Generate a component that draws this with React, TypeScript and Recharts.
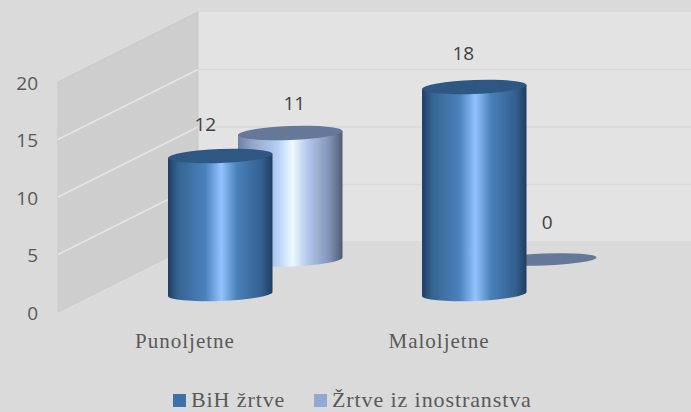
import React from "react";
import { BarChart, Bar, XAxis, YAxis, Legend, LabelList, Customized } from "recharts";

const categories = ["Punoljetne", "Maloljetne"];
const bihValues = [12, 18];
const foreignValues = [11, 0];
const yTicks = [0, 5, 10, 15, 20];
const seriesNames = ["BiH žrtve", "Žrtve iz inostranstva"];

const tableData = categories.map((name, i) => ({ name, bih: bihValues[i], foreign: foreignValues[i] }));

const W = 691;
const H = 412;
const PLOT_TOP = 83;
const PLOT_BOTTOM = 313;
const UNIT = (PLOT_BOTTOM - PLOT_TOP) / 20;
const BAR_W = 104.5;
const FRONT_DY = -19;
const BACK_DX = 70;
const BACK_DY = -53.5;
const TILT = 2;
const RY = 7;

const AXIS_FONT = "'Open Sans', sans-serif";
const SERIF = "'Liberation Serif', serif";

function Cylinder({ x, y, width, height, dx, dy, fill, topFill }: any) {
  const left = x + dx;
  const right = left + width;
  const cx = left + width / 2;
  const rx = width / 2;
  const top = y + dy;
  const bot = y + height + dy;
  const rot = -(Math.atan2(TILT * 2, width) * 180) / Math.PI;
  if (height <= 0.5) {
    return <ellipse cx={cx} cy={top} rx={rx} ry={RY - 1} fill={topFill} transform={`rotate(${rot} ${cx} ${top})`} />;
  }
  const body = `M ${left} ${top + TILT} L ${left} ${bot + TILT} A ${rx} ${RY} ${rot} 0 0 ${right} ${bot - TILT} L ${right} ${top - TILT} Z`;
  return (
    <g>
      <path d={body} fill={fill} />
      <ellipse cx={cx} cy={top} rx={rx} ry={RY} fill={topFill} transform={`rotate(${rot} ${cx} ${top})`} />
    </g>
  );
}

function Room() {
  const backLeft = 198;
  const frontLeft = 58;
  const backY = (v: number) => 242 - v * 11.5;
  const sideY = (v: number) => 312 - v * 11.5;
  return (
    <g>
      <defs>
        <linearGradient id="blueBody" x1="0" x2="1" y1="0" y2="0">
          <stop offset="0" stopColor="#1f3f66" />
          <stop offset="0.1" stopColor="#366492" />
          <stop offset="0.36" stopColor="#4b82bd" />
          <stop offset="0.51" stopColor="#92c3ff" />
          <stop offset="0.66" stopColor="#4a80ba" />
          <stop offset="0.9" stopColor="#335f8f" />
          <stop offset="1" stopColor="#1f3e62" />
        </linearGradient>
        <linearGradient id="lightBody" x1="0" x2="1" y1="0" y2="0">
          <stop offset="0" stopColor="#6f7f9e" />
          <stop offset="0.12" stopColor="#8fa3c6" />
          <stop offset="0.38" stopColor="#b6cff5" />
          <stop offset="0.52" stopColor="#ecfaff" />
          <stop offset="0.66" stopColor="#b5c9ec" />
          <stop offset="0.88" stopColor="#7f92b5" />
          <stop offset="1" stopColor="#4f5b72" />
        </linearGradient>
      </defs>
      <rect x={backLeft} y={backY(20)} width={W - backLeft} height={backY(0) - backY(20)} fill="#e3e3e3" />
      <polygon
        points={`${frontLeft},${sideY(20)} ${backLeft},${backY(20)} ${backLeft},${backY(0)} ${frontLeft},${sideY(0)}`}
        fill="#cecece"
        stroke="#c9c9c9"
      />
      {yTicks.map((t) => (
        <g key={t}>
          {t > 0 && t < 20 && (
            <line x1={frontLeft} y1={sideY(t)} x2={backLeft} y2={backY(t)} stroke="#e4e4e4" strokeWidth={1.5} />
          )}
          {t < 20 && <line x1={backLeft} y1={backY(t)} x2={W} y2={backY(t)} stroke="#d9d9d9" strokeWidth={1.5} />}
        </g>
      ))}
    </g>
  );
}

const frontLabelDx = [-15, -11];
const frontLabelDy = [-32, -34];
const backLabelDx = [4, 3];
const backLabelDy = [-30, -38];

function makeLabel(baseDx: number, baseDy: number, dxs: number[], dys: number[]) {
  return function DataLabel({ x, y, width, value, index }: any) {
    return (
      <text
        x={x + width / 2 + baseDx + dxs[index]}
        y={y + baseDy + dys[index]}
        textAnchor="middle"
        dominantBaseline="central"
        fontFamily={AXIS_FONT}
        fontSize={19}
        fill="#404040"
      >
        {value}
      </text>
    );
  };
}

function LegendBox() {
  const swatches = ["#3f70ab", "#93a9d3"];
  const lefts = [173, 314];
  return (
    <div style={{ position: "relative", width: W, height: 24 }}>
      {seriesNames.map((n, i) => (
        <div key={n}>
          <div
            style={{ position: "absolute", left: lefts[i], top: 7, width: 13, height: 13, background: swatches[i] }}
          />
          <div
            style={{
              position: "absolute",
              left: lefts[i] + 18,
              top: 0,
              fontFamily: SERIF,
              fontSize: 22,
              lineHeight: "26px",
              letterSpacing: 0.9,
              color: "#595959",
              whiteSpace: "nowrap",
            }}
          >
            {n}
          </div>
        </div>
      ))}
    </div>
  );
}

export default function App() {
  return (
    <div style={{ position: "absolute", left: 0, top: 0, width: W, height: H, background: "#dadada", overflow: "hidden" }}>
      <BarChart
        width={W}
        height={H}
        data={tableData}
        margin={{ top: PLOT_TOP, right: 90, bottom: H - PLOT_BOTTOM - 40, left: 43 }}
        barSize={BAR_W}
        barGap={-BAR_W}
      >
        <Customized component={Room} />
        <XAxis
          dataKey="name"
          height={40}
          axisLine={false}
          tickLine={false}
          tickMargin={14}
          interval={0}
          tick={{ dx: -35, fontFamily: SERIF, fontSize: 21, fill: "#595959", letterSpacing: 1 }}
        />
        <YAxis
          width={50}
          domain={[0, 20]}
          ticks={yTicks}
          axisLine={false}
          tickLine={false}
          interval={0}
          tick={{ dx: -47, fontFamily: AXIS_FONT, fontSize: 19, fill: "#595959" }}
        />
        <Legend
          layout="horizontal"
          verticalAlign="middle"
          content={<LegendBox />}
          wrapperStyle={{ top: 387, left: 0, width: W, height: 24, bottom: "auto" }}
        />
        <Bar
          dataKey="foreign"
          name={seriesNames[1]}
          isAnimationActive={false}
          shape={(p: any) => <Cylinder {...p} dx={BACK_DX} dy={BACK_DY} fill="url(#lightBody)" topFill="#66789a" />}
        >
          <LabelList dataKey="foreign" content={makeLabel(BACK_DX, BACK_DY, backLabelDx, backLabelDy)} />
        </Bar>
        <Bar
          dataKey="bih"
          name={seriesNames[0]}
          isAnimationActive={false}
          shape={(p: any) => <Cylinder {...p} dx={0} dy={FRONT_DY} fill="url(#blueBody)" topFill="#2e5784" />}
        >
          <LabelList dataKey="bih" content={makeLabel(0, FRONT_DY, frontLabelDx, frontLabelDy)} />
        </Bar>
      </BarChart>
    </div>
  );
}
